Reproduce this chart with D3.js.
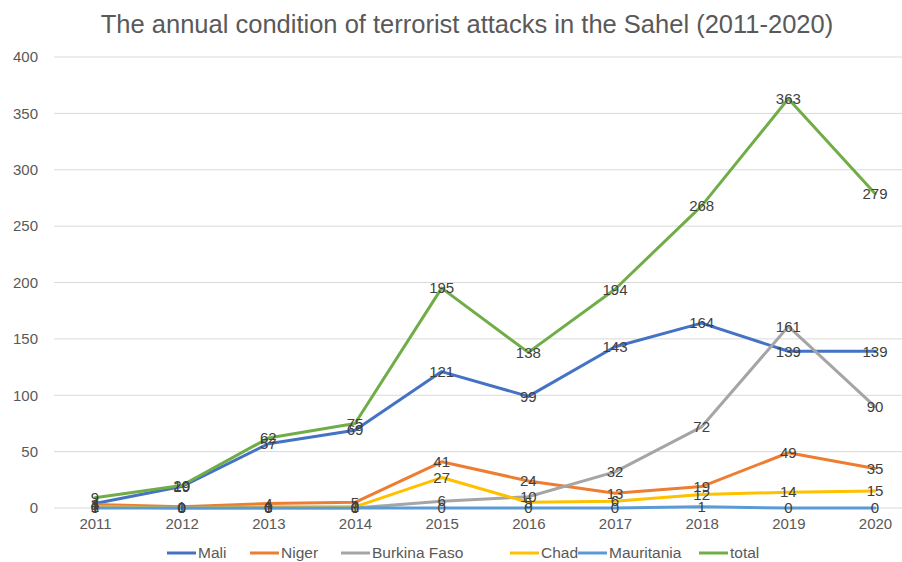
<!DOCTYPE html>
<html><head><meta charset="utf-8">
<script src="https://cdn.jsdelivr.net/npm/d3@7"></script>
<style>body{margin:0;background:#fff;}svg{display:block;}</style>
</head><body>
<svg id="chart" width="902" height="562"></svg>
<script>
const years = ["2011","2012","2013","2014","2015","2016","2017","2018","2019","2020"];
const mali = [4,19,57,69,121,99,143,164,139,139];
const niger = [3,1,4,5,41,24,13,19,49,35];
const burkina = [1,0,0,0,6,10,32,72,161,90];
const chad = [1,0,1,1,27,5,6,12,14,15];
const mauritania = [0,0,0,0,0,0,0,1,0,0];
const total = [9,20,62,75,195,138,194,268,363,279];
const yTicks = [0,50,100,150,200,250,300,350,400];
const seriesNames = ["Mali","Niger","Burkina Faso","Chad","Mauritania","total"];
const seriesColors = ["#4472C4","#ED7D31","#A5A5A5","#FFC000","#5B9BD5","#70AD47"];
const titleText = "The annual condition of terrorist attacks in the Sahel (2011-2020)";

const series = [mali,niger,burkina,chad,mauritania,total].map((v,i)=>({name:seriesNames[i],color:seriesColors[i],values:v}));
const svg = d3.select("#chart");
const font = "'Liberation Sans',Arial,sans-serif";

const x = d3.scalePoint().domain(years).range([95,875]);
const y = d3.scaleLinear().domain([0,400]).range([508,57]);

svg.append("text").attr("x",467).attr("y",33).attr("text-anchor","middle")
  .attr("font-family",font).attr("font-size",25.5).attr("fill","#595959").text(titleText);

// gridlines
svg.append("g").selectAll("line").data(yTicks).join("line")
  .attr("x1",54).attr("x2",902).attr("y1",d=>y(d)).attr("y2",d=>y(d))
  .attr("stroke","#d9d9d9").attr("stroke-width",1);

// y axis labels
const yAxis = d3.axisLeft(y).tickValues(yTicks).tickSize(0).tickPadding(0);
const gy = svg.append("g").attr("transform","translate(38,0)").call(yAxis);
gy.select(".domain").remove();
gy.selectAll("text").attr("font-family",font).attr("font-size",15).attr("fill","#595959");

// x axis labels
const xAxis = d3.axisBottom(x).tickSize(0).tickPadding(0);
const gx = svg.append("g").attr("transform","translate(0,518)").call(xAxis);
gx.select(".domain").remove();
gx.selectAll("text").attr("font-family",font).attr("font-size",15).attr("fill","#595959").attr("dy","0.71em");

const line = d3.line().x((d,i)=>x(years[i])).y(d=>y(d));
svg.append("g").selectAll("path").data(series).join("path")
  .attr("d",d=>line(d.values)).attr("fill","none").attr("stroke",d=>d.color)
  .attr("stroke-width",3).attr("stroke-linejoin","round").attr("stroke-linecap","round");

// data labels
const lg = svg.append("g");
series.forEach(s=>{
  lg.selectAll(null).data(s.values).join("text")
    .attr("x",(d,i)=>x(years[i])).attr("y",d=>y(d)).attr("dy","0.35em")
    .attr("text-anchor","middle").attr("font-family",font).attr("font-size",15)
    .attr("fill","#404040").text(d=>d);
});

// legend
const legendX = [167,250,341,510,578,699];
const leg = svg.append("g");
series.forEach((s,i)=>{
  const g = leg.append("g").attr("transform",`translate(${legendX[i]},553)`);
  g.append("line").attr("x1",0).attr("x2",29).attr("stroke",s.color).attr("stroke-width",3);
  g.append("text").attr("x",31).attr("dy","0.35em").attr("font-family",font).attr("font-size",15.5)
    .attr("fill","#595959").text(s.name);
});
</script>
</body></html>
